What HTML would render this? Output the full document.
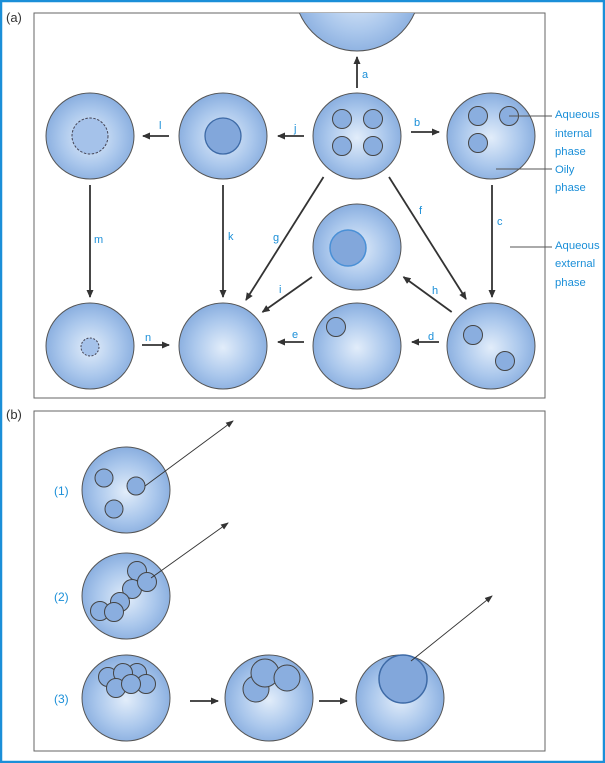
<!DOCTYPE html>
<html><head><meta charset="utf-8"><style>
html,body{margin:0;padding:0;background:#fff;}
svg{display:block;}
text{font-family:"Liberation Sans",sans-serif;}
.l{fill:#1b8fd8;font-size:11px;}
.r{fill:#1b8fd8;font-size:11.3px;}
.b{fill:#1b8fd8;font-size:12px;}
</style></head><body>
<svg width="605" height="763" viewBox="0 0 605 763" xmlns="http://www.w3.org/2000/svg">
<defs>
<radialGradient id="g" cx="50%" cy="52%" r="55%">
<stop offset="0" stop-color="#e2edfa"/><stop offset="0.6" stop-color="#aac7ec"/><stop offset="1" stop-color="#84aadd"/>
</radialGradient>
<marker id="ah" markerWidth="8" markerHeight="8" refX="7" refY="4" orient="auto" markerUnits="userSpaceOnUse"><path d="M0,0.5 L8,4 L0,7.5 Z" fill="#333"/></marker>
<marker id="as" markerWidth="8" markerHeight="7" refX="7" refY="3.5" orient="auto" markerUnits="userSpaceOnUse"><path d="M0,0.5 L8,3.5 L0,6.5 Z" fill="#333"/></marker>
<clipPath id="ca"><rect x="34" y="13" width="511" height="385"/></clipPath>
</defs>
<rect x="1" y="1" width="603" height="761" fill="none" stroke="#1b8fd8" stroke-width="2.5"/>
<text x="6" y="22" font-size="13" fill="#333">(a)</text>
<rect x="34" y="13" width="511" height="385" fill="none" stroke="#666" stroke-width="1"/>
<g stroke="#555" stroke-width="1" fill="url(#g)">
<ellipse cx="357" cy="-13" rx="63" ry="64" clip-path="url(#ca)"/>
<ellipse cx="90" cy="136" rx="44" ry="43"/>
<ellipse cx="223" cy="136" rx="44" ry="43"/>
<ellipse cx="357" cy="136" rx="44" ry="43"/>
<ellipse cx="491" cy="136" rx="44" ry="43"/>
<ellipse cx="357" cy="247" rx="44" ry="43"/>
<ellipse cx="90" cy="346" rx="44" ry="43"/>
<ellipse cx="223" cy="346" rx="44" ry="43"/>
<ellipse cx="357" cy="346" rx="44" ry="43"/>
<ellipse cx="491" cy="346" rx="44" ry="43"/>
</g>
<g fill="#8aaedf" stroke="#444" stroke-width="1">
<circle cx="342" cy="119" r="9.5"/><circle cx="373" cy="119" r="9.5"/><circle cx="342" cy="146" r="9.5"/><circle cx="373" cy="146" r="9.5"/>
<circle cx="478" cy="116" r="9.5"/><circle cx="509" cy="116" r="9.5"/><circle cx="478" cy="143" r="9.5"/>
<circle cx="336" cy="327" r="9.5"/>
<circle cx="473" cy="335" r="9.5"/><circle cx="505" cy="361" r="9.5"/>
<circle cx="223" cy="136" r="18" fill="#82a7db" stroke="#3d6aa6" stroke-width="1.3"/>
<circle cx="90" cy="136" r="18" fill="#a5c2ea" stroke="#445" stroke-dasharray="2.5,1.5"/>
<circle cx="90" cy="347" r="9" fill="#a5c2ea" stroke="#445" stroke-dasharray="2,1.5"/>
<circle cx="348" cy="248" r="18" fill="#82a7db" stroke="#4a90d6" stroke-width="1.5"/>
</g>
<g stroke="#333" stroke-width="1.8" marker-end="url(#ah)">
<line x1="357" y1="88" x2="357" y2="57"/>
<line x1="304" y1="136" x2="278" y2="136"/>
<line x1="169" y1="136" x2="143" y2="136"/>
<line x1="411" y1="132" x2="439" y2="132"/>
<line x1="492" y1="185" x2="492" y2="297"/>
<line x1="90" y1="185" x2="90" y2="297"/>
<line x1="223" y1="185" x2="223" y2="297"/>
<line x1="323.5" y1="177" x2="246" y2="300"/>
<line x1="389" y1="177" x2="466" y2="299"/>
<line x1="312" y1="277" x2="262.5" y2="312"/>
<line x1="451.7" y1="312" x2="403.5" y2="277"/>
<line x1="304" y1="342" x2="278" y2="342"/>
<line x1="439" y1="342" x2="412" y2="342"/>
<line x1="142" y1="345" x2="169" y2="345"/>
</g>
<g class="l">
<text x="362" y="78">a</text><text x="294" y="132">j</text><text x="159" y="129">l</text><text x="414" y="126">b</text>
<text x="497" y="225">c</text><text x="94" y="243">m</text><text x="228" y="240">k</text><text x="273" y="241">g</text>
<text x="419" y="214">f</text><text x="279" y="293">i</text><text x="432" y="294">h</text><text x="292" y="338">e</text>
<text x="428" y="340">d</text><text x="145" y="341">n</text>
</g>
<g class="r">
<text x="555" y="118">Aqueous</text><text x="555" y="137">internal</text><text x="555" y="155">phase</text>
<text x="555" y="173">Oily</text><text x="555" y="191">phase</text>
<text x="555" y="249">Aqueous</text><text x="555" y="267">external</text><text x="555" y="286">phase</text>
</g>
<g stroke="#555" stroke-width="1">
<line x1="509" y1="116" x2="552" y2="116"/>
<line x1="496" y1="169" x2="552" y2="169"/>
<line x1="510" y1="247" x2="552" y2="247"/>
</g>

<text x="6" y="419" font-size="13" fill="#333">(b)</text>
<rect x="34" y="411" width="511" height="340" fill="none" stroke="#666" stroke-width="1"/>
<g stroke="#555" stroke-width="1" fill="url(#g)">
<ellipse cx="126" cy="490" rx="44" ry="43"/>
<ellipse cx="126" cy="596" rx="44" ry="43"/>
<ellipse cx="126" cy="698" rx="44" ry="43"/>
<ellipse cx="269" cy="698" rx="44" ry="43"/>
<ellipse cx="400" cy="698" rx="44" ry="43"/>
</g>
<g fill="#8aaedf" stroke="#444" stroke-width="1">
<circle cx="104" cy="478" r="9"/><circle cx="136" cy="486" r="9"/><circle cx="114" cy="509" r="9"/>
<circle cx="137" cy="571" r="9.5"/><circle cx="132" cy="589" r="9.5"/><circle cx="120" cy="602" r="9.5"/><circle cx="100" cy="611" r="9.5"/><circle cx="114" cy="612" r="9.5"/><circle cx="147" cy="582" r="9.5"/>
<circle cx="108" cy="677" r="9.5"/><circle cx="137" cy="673" r="9.5"/><circle cx="123" cy="673" r="9.5"/><circle cx="146" cy="684" r="9.5"/><circle cx="116" cy="688" r="9.5"/><circle cx="131" cy="684" r="9.5"/>
<circle cx="256" cy="689" r="13"/><circle cx="265" cy="673" r="14"/><circle cx="287" cy="678" r="13"/>
<ellipse cx="403" cy="679" rx="24" ry="24" fill="#82a7db" stroke="#3d6aa6" stroke-width="1.5"/>
</g>
<g stroke="#333" stroke-width="0.9" marker-end="url(#as)">
<line x1="145" y1="486" x2="233" y2="421"/>
<line x1="151" y1="578" x2="228" y2="523"/>
<line x1="411" y1="661" x2="492" y2="596"/>
</g>
<g stroke="#333" stroke-width="1.8" marker-end="url(#ah)">
<line x1="190" y1="701" x2="218" y2="701"/>
<line x1="319" y1="701" x2="347" y2="701"/>
</g>
<g class="b">
<text x="54" y="495">(1)</text><text x="54" y="601">(2)</text><text x="54" y="703">(3)</text>
</g>
</svg>
</body></html>
